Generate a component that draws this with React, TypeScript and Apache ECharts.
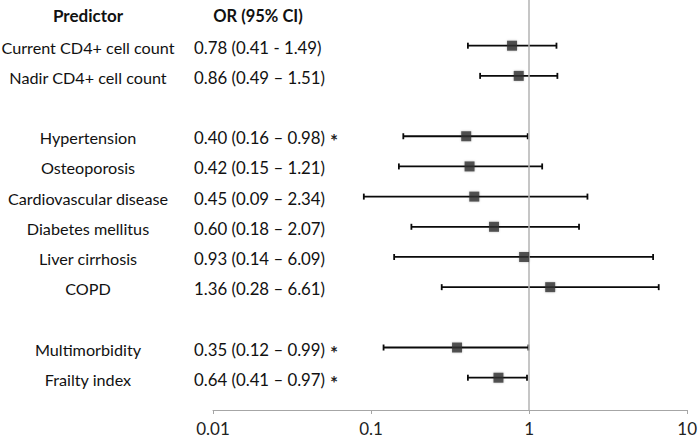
import React, { useEffect, useRef } from "react";
import * as echarts from "echarts";

const predictors = [
  "Current CD4+ cell count",
  "Nadir CD4+ cell count",
  "",
  "Hypertension",
  "Osteoporosis",
  "Cardiovascular disease",
  "Diabetes mellitus",
  "Liver cirrhosis",
  "COPD",
  "",
  "Multimorbidity",
  "Frailty index",
];
const oddsRatios = [0.78, 0.86, null, 0.4, 0.42, 0.45, 0.6, 0.93, 1.36, null, 0.35, 0.64];
const ciLow = [0.41, 0.49, null, 0.16, 0.15, 0.09, 0.18, 0.14, 0.28, null, 0.12, 0.41];
const ciHigh = [1.49, 1.51, null, 0.98, 1.21, 2.34, 2.07, 6.09, 6.61, null, 0.99, 0.97];
const orLabels = [
  "0.78 (0.41 - 1.49)",
  "0.86 (0.49 \u2013 1.51)",
  "",
  "0.40 (0.16 \u2013 0.98)",
  "0.42 (0.15 \u2013 1.21)",
  "0.45 (0.09 \u2013 2.34)",
  "0.60 (0.18 \u2013 2.07)",
  "0.93 (0.14 \u2013 6.09)",
  "1.36 (0.28 \u2013 6.61)",
  "",
  "0.35 (0.12 \u2013 0.99)",
  "0.64 (0.41 \u2013 0.97)",
];
const significant = [false, false, false, true, false, false, false, false, false, false, true, true];
const xTicks = [0.01, 0.1, 1, 10];

const FONT = "Lato, 'Open Sans', sans-serif";

export default function App() {
  const ref = useRef<HTMLDivElement>(null);
  useEffect(() => {
    if (!ref.current) return;
    const chart = echarts.init(ref.current, undefined, { renderer: "svg" });

    const rows = predictors.map((p, i) => ({
      idx: i + 1,
      name: p,
      or: oddsRatios[i],
      lo: ciLow[i],
      hi: ciHigh[i],
      label: orLabels[i],
      sig: significant[i],
    }));
    const valid = rows.filter((r) => r.or !== null);

    const ciData = valid.map((r) => [r.lo, r.hi, r.idx]);
    const pointData = valid.map((r) => [r.or, r.idx]);
    const textData = rows.map((r) => [1, r.idx]);
    textData.unshift([1, 0]);

    const option: any = {
      animation: false,
      backgroundColor: "#ffffff",
      grid: { left: 213, right: 11, top: 0, bottom: 31, containLabel: false },
      xAxis: {
        type: "log",
        logBase: 10,
        min: 0.01,
        max: 10,
        position: "bottom",
        axisLine: { show: true, onZero: false, lineStyle: { color: "#a6a6a6", width: 1 } },
        axisTick: { show: true, length: 4, lineStyle: { color: "#a6a6a6" } },
        splitLine: { show: false },
        axisLabel: {
          color: "#222",
          fontSize: 17,
          fontFamily: FONT,
          margin: 10,
          formatter: (v: number) => {
            const t = xTicks.find((x) => Math.abs(x - v) / x < 1e-6);
            return t !== undefined ? String(t) : "";
          },
        },
      },
      yAxis: {
        type: "value",
        inverse: true,
        min: -0.514,
        max: 13.07,
        show: false,
      },
      series: [
        {
          type: "line",
          data: [],
          markLine: {
            silent: true,
            symbol: "none",
            label: { show: false },
            lineStyle: { color: "#b3b3b3", width: 1.5, type: "solid" },
            data: [{ xAxis: 1 }],
          },
        },
        {
          type: "custom",
          clip: false,
          data: ciData,
          renderItem: (params: any, api: any) => {
            const lo = api.coord([api.value(0), api.value(2)]);
            const hi = api.coord([api.value(1), api.value(2)]);
            const style = { stroke: "#0a0a0a", lineWidth: 1.8 };
            return {
              type: "group",
              children: [
                { type: "line", shape: { x1: lo[0], y1: lo[1], x2: hi[0], y2: hi[1] }, style },
                { type: "line", shape: { x1: lo[0], y1: lo[1] - 3, x2: lo[0], y2: lo[1] + 3 }, style },
                { type: "line", shape: { x1: hi[0], y1: hi[1] - 3, x2: hi[0], y2: hi[1] + 3 }, style },
              ],
            };
          },
        },
        {
          type: "scatter",
          data: pointData,
          symbol: "rect",
          symbolSize: 10,
          itemStyle: {
            color: "#2f2f2f",
            shadowBlur: 2,
            shadowColor: "rgba(0,0,0,0.3)",
          },
          z: 5,
        },
        {
          type: "custom",
          clip: false,
          data: textData,
          renderItem: (params: any, api: any) => {
            const i = params.dataIndex;
            const y = api.coord([1, api.value(1)])[1] + 1.5;
            if (i === 0) {
              return {
                type: "group",
                children: [
                  {
                    type: "text",
                    style: {
                      x: 88, y: y - 1.5, text: "Predictor", align: "center", verticalAlign: "middle",
                      fontSize: 17, fontWeight: "bold", fontFamily: FONT, fill: "#111",
                    },
                  },
                  {
                    type: "text",
                    style: {
                      x: 258, y: y - 1.5, text: "OR (95% CI)", align: "center", verticalAlign: "middle",
                      fontSize: 16.5, fontWeight: "bold", fontFamily: FONT, fill: "#111",
                    },
                  },
                ],
              };
            }
            const r = rows[i - 1];
            if (!r.name) return { type: "group", children: [] };
            const children: any[] = [
              {
                type: "text",
                style: {
                  x: 88, y, text: r.name, align: "center", verticalAlign: "middle",
                  fontSize: 16.2, fontFamily: FONT, fill: "#111",
                },
              },
              {
                type: "text",
                style: {
                  x: 194, y, text: r.label, align: "left", verticalAlign: "middle",
                  fontSize: 16.8, fontFamily: FONT, fill: "#111",
                },
              },
            ];
            if (r.sig) {
              children.push({
                type: "text",
                style: {
                  x: 334, y: y + 3, text: "*", align: "center", verticalAlign: "middle",
                  fontSize: 19, fontWeight: "bold", fontFamily: FONT, fill: "#222",
                },
              });
            }
            return { type: "group", children };
          },
        },
      ],
    };
    chart.setOption(option);
    return () => chart.dispose();
  }, []);
  return <div ref={ref} style={{ width: 700, height: 441, position: "absolute", left: 0, top: 0 }} />;
}
